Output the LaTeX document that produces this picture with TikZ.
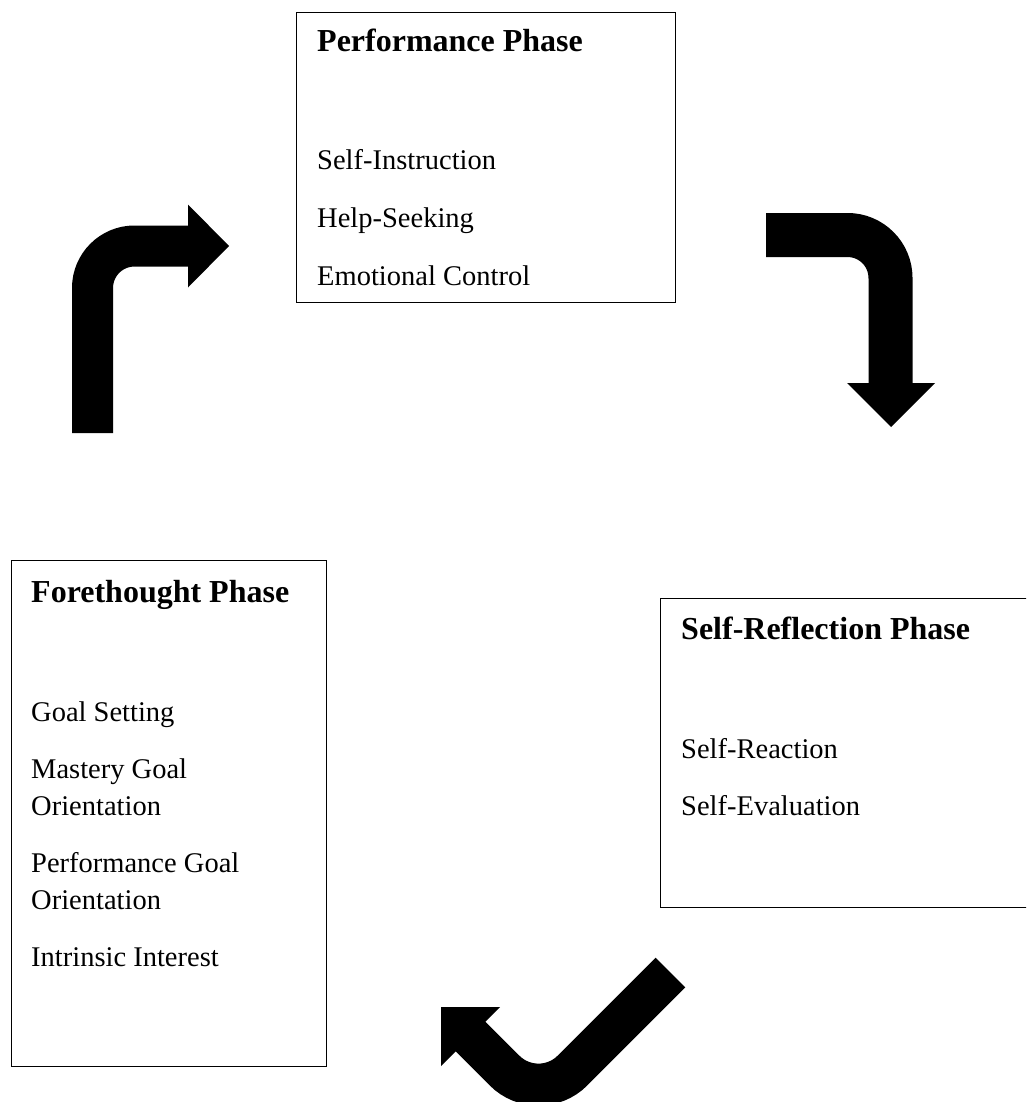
\documentclass[tikz,border=0pt]{standalone}
\usepackage{fontspec}
\setmainfont{Liberation Serif}
\tikzset{
  phasebox/.style={draw=black, line width=1.4pt, fill=none, anchor=north west, inner sep=0pt},
  ttl/.style={anchor=base west, inner sep=0pt, font=\fontsize{32}{38}\selectfont\bfseries},
  itm/.style={anchor=base west, inner sep=0pt, font=\fontsize{28.5}{34}\selectfont},
  bigshaft/.style={draw=black, line cap=butt},
  bighead/.style={fill=black, draw=none}
}
\begin{document}
\begin{tikzpicture}[x=1pt, y=-1pt]
\clip (0,0) rectangle (1026,1102);
\fill[white] (0,0) rectangle (1026,1102);

% Performance box
\node[phasebox, minimum width=379pt, minimum height=290pt] (perf) at (296,12) {};
\node[ttl] (perft) at (317,52) {Performance Phase};
\node[itm] (p1) at (317,170) {Self-Instruction};
\node[itm] (p2) at (317,227.5) {Help-Seeking};
\node[itm] (p3) at (317,285) {Emotional Control};

% Forethought box
\node[phasebox, minimum width=315pt, minimum height=506pt] (fore) at (11,560) {};
\node[ttl] (foret) at (31,602) {Forethought Phase};
\node[itm] (f1) at (31,721) {Goal Setting};
\node[itm] (f2a) at (31,778) {Mastery Goal};
\node[itm] (f2b) at (31,815) {Orientation};
\node[itm] (f3a) at (31,872) {Performance Goal};
\node[itm] (f3b) at (31,909) {Orientation};
\node[itm] (f4) at (31,966) {Intrinsic Interest};

% Self-Reflection box (extends past right edge)
\node[phasebox, minimum width=380pt, minimum height=309pt] (refl) at (660,598) {};
\node[ttl] (reflt) at (681,639) {Self-Reflection Phase};
\node[itm] (r1) at (681,758) {Self-Reaction};
\node[itm] (r2) at (681,815) {Self-Evaluation};

% Arrow 1: up then right
\coordinate (a1s) at (92.5,433);
\coordinate (a1e) at (189,246);
\draw[bigshaft, line width=41pt, rounded corners=42pt] (a1s) |- (a1e);
\fill[bighead] (188,204.5) -- (229,246) -- (188,287.5) -- cycle;

% Arrow 2: right then down
\coordinate (a2s) at (766,235);
\coordinate (a2e) at (890.5,384);
\draw[bigshaft, line width=44pt, rounded corners=43pt] (a2s) -| (a2e);
\fill[bighead] (847,383) -- (935,383) -- (891,427) -- cycle;

% Arrow 3: down-left then up-left
\coordinate (a3s) at (670.5,972.5);
\coordinate (a3m) at (538.5,1104.5);
\coordinate (a3e) at (470,1036);
\draw[bigshaft, line width=42pt, rounded corners=48pt] (a3s) -- (a3m) -- (a3e);
\fill[bighead] (441,1007) -- (500,1007) -- (441,1066) -- cycle;
\end{tikzpicture}
\end{document}
